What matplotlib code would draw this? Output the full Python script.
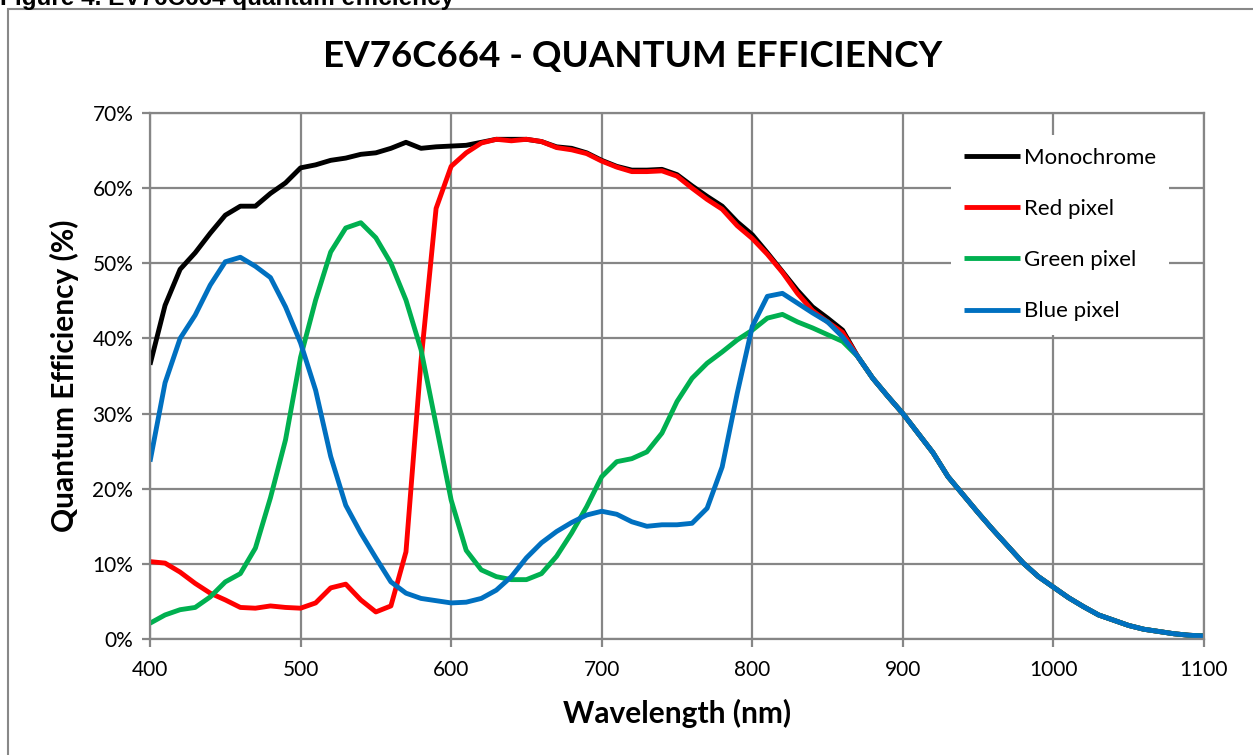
import matplotlib
matplotlib.use("Agg")
import matplotlib.pyplot as plt
from matplotlib.patches import Rectangle
from matplotlib.ticker import MultipleLocator, FuncFormatter

wavelength = list(range(400, 1101, 10))

tail = [37.6, 34.7, 32.3, 30.0, 27.4, 24.8, 21.6, 19.2, 16.8, 14.5, 12.3, 10.1,
        8.3, 6.9, 5.5, 4.3, 3.2, 2.5, 1.8, 1.3, 1.0, 0.7, 0.5, 0.4]  # 870..1100

mono = [36.5, 44.4, 49.2, 51.4, 54.0, 56.4, 57.6, 57.6, 59.3, 60.7,
        62.7, 63.1, 63.7, 64.0, 64.5, 64.7, 65.3, 66.1, 65.3, 65.5,
        65.6, 65.7, 66.1, 66.5, 66.5, 66.5, 66.2, 65.5, 65.3, 64.7,
        63.7, 62.9, 62.4, 62.4, 62.5, 61.8, 60.3, 58.9, 57.6, 55.5,
        53.8, 51.4, 48.9, 46.4, 44.2, 42.7, 41.1] + tail

red = [10.3, 10.1, 8.9, 7.4, 6.1, 5.2, 4.2, 4.1, 4.4, 4.2,
       4.1, 4.8, 6.8, 7.3, 5.2, 3.6, 4.4, 11.6, 37.0, 57.3,
       62.9, 64.7, 66.0, 66.5, 66.3, 66.5, 66.2, 65.4, 65.1, 64.6,
       63.6, 62.8, 62.2, 62.2, 62.3, 61.6, 60.0, 58.5, 57.2, 55.0,
       53.3, 51.2, 48.8, 46.0, 43.7, 42.2, 40.8] + tail

green = [2.1, 3.2, 3.9, 4.2, 5.6, 7.6, 8.7, 12.1, 18.8, 26.5,
         37.5, 45.1, 51.5, 54.7, 55.4, 53.4, 50.0, 45.1, 38.5, 28.5,
         18.5, 11.8, 9.2, 8.3, 7.9, 7.9, 8.7, 11.0, 14.1, 17.6,
         21.6, 23.6, 24.0, 24.9, 27.4, 31.6, 34.7, 36.7, 38.2, 39.8,
         41.1, 42.7, 43.2, 42.2, 41.4, 40.5, 39.6] + tail

blue = [23.6, 34.1, 40.0, 43.1, 47.1, 50.2, 50.8, 49.6, 48.1, 44.2,
        39.4, 33.1, 24.3, 17.8, 14.1, 10.8, 7.6, 6.1, 5.4, 5.1,
        4.8, 4.9, 5.4, 6.5, 8.3, 10.8, 12.8, 14.3, 15.5, 16.5,
        17.0, 16.6, 15.6, 15.0, 15.2, 15.2, 15.4, 17.4, 22.9, 32.7,
        41.6, 45.6, 46.0, 44.7, 43.4, 42.2, 40.2] + tail

series_names = ["Monochrome", "Red pixel", "Green pixel", "Blue pixel"]
series_colors = ["#000000", "#FF0000", "#00B050", "#0070C0"]

FONT = ["Lato", "DejaVu Sans"]
plt.rcParams['font.family'] = FONT

W, H = 1253, 755
fig = plt.figure(figsize=(W / 100, H / 100), dpi=100)

# outer border of chart area
fig.patches.append(Rectangle((7.5 / W, -0.05), 1.2, (755 - 8.5) / H + 0.05,
                             transform=fig.transFigure, fill=False,
                             edgecolor="#888888", lw=1.5))
fig.text(0 / W, 1 - 5 / H, "Figure 4. EV76C664 quantum efficiency",
         family=["Liberation Sans"], fontweight="bold", fontsize=17.5,
         ha="left", va="baseline")

ax = fig.add_axes([150 / W, (755 - 639) / H, 1054 / W, 526 / H])
for ys, name, col in zip([mono, red, green, blue], series_names, series_colors):
    ax.plot(wavelength, ys, color=col, lw=3.5, label=name,
            solid_joinstyle="round", solid_capstyle="butt")

ax.set_xlim(400, 1100)
ax.set_ylim(0, 70)
ax.xaxis.set_major_locator(MultipleLocator(100))
ax.yaxis.set_major_locator(MultipleLocator(10))
ax.yaxis.set_major_formatter(FuncFormatter(lambda v, p: f"{int(round(v))}%"))
ax.grid(True, color="#868686", lw=1.6)
ax.set_axisbelow(True)
for s in ax.spines.values():
    s.set_color("#868686")
    s.set_linewidth(1.6)
ax.tick_params(axis="both", direction="out", length=6, width=1.6,
               color="#868686", labelsize=15)
ax.tick_params(axis="x", pad=9)
ax.tick_params(axis="y", pad=6)

ax.set_xlabel("Wavelength (nm)", fontsize=21.5, fontweight="bold", labelpad=14)
ax.set_ylabel("Quantum Efficiency (%)", fontsize=21.5, fontweight="bold", labelpad=10)
fig.text(633 / W, 1 - 57 / H, "EV76C664 - QUANTUM EFFICIENCY", fontsize=26.5,
         fontweight="bold", ha="center", va="center")

leg = ax.legend(loc="upper left", bbox_to_anchor=(0.7495, 0.98), frameon=True,
                facecolor="white", edgecolor="none", framealpha=1,
                fontsize=16, handlelength=2.5, handletextpad=0.18,
                labelspacing=1.40, borderpad=0.6)

fig.savefig("out.png", dpi=100)
